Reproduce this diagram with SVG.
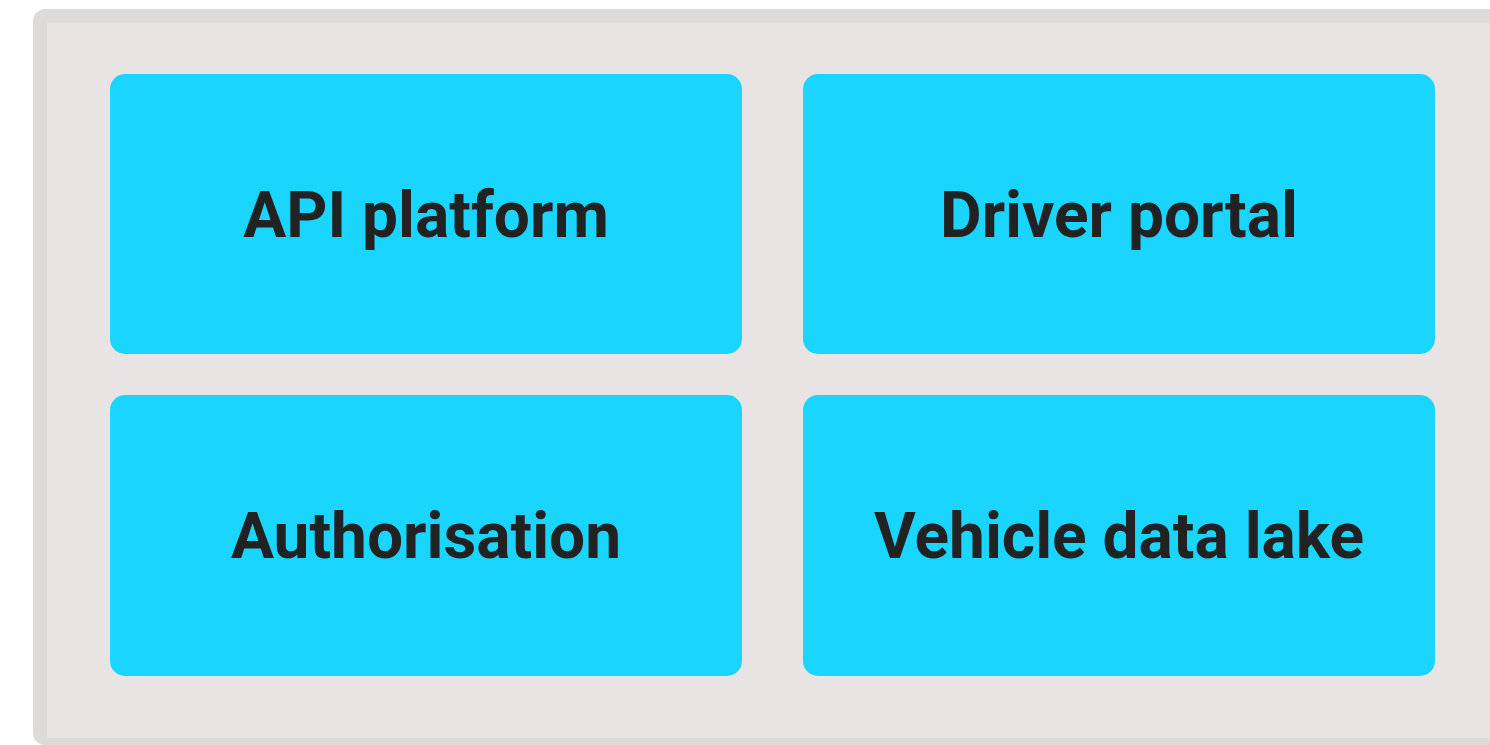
<svg xmlns="http://www.w3.org/2000/svg" width="1490" height="745" viewBox="0 0 1490 745">
<style>
.box{fill:#1ad6ff}
.lbl{font-family:Roboto,"Liberation Sans",sans-serif;font-weight:bold;font-size:64px;fill:#222222;text-anchor:middle}
</style>
<rect width="1490" height="745" fill="#ffffff"/>
<g id="container">
<rect x="33" y="9" width="1480" height="736" rx="12" fill="#dcdbda"/>
<rect x="47" y="23" width="1460" height="715" fill="#e8e4e3"/>
</g>
<g id="api-platform">
<rect class="box" x="110" y="74" width="632" height="280" rx="15"/>
<text class="lbl" x="426" y="237">API platform</text>
</g>
<g id="driver-portal">
<rect class="box" x="803" y="74" width="632" height="280" rx="15"/>
<text class="lbl" x="1119" y="237">Driver portal</text>
</g>
<g id="authorisation">
<rect class="box" x="110" y="395" width="632" height="281" rx="15"/>
<text class="lbl" x="426" y="558">Authorisation</text>
</g>
<g id="vehicle-data-lake">
<rect class="box" x="803" y="395" width="632" height="281" rx="15"/>
<text class="lbl" x="1119" y="558">Vehicle data lake</text>
</g>
<g id="connectors"/>
</svg>
